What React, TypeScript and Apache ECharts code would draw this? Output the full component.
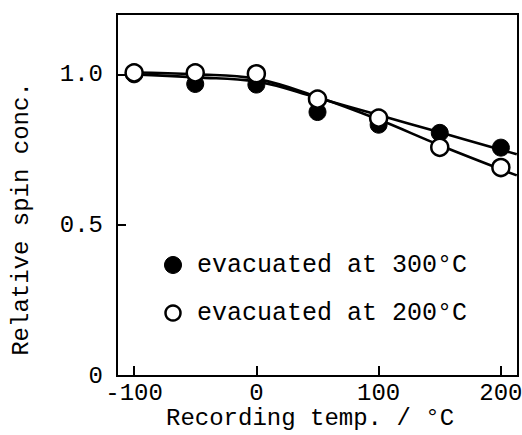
import React, { useEffect, useRef } from "react";
import * as echarts from "echarts";

// Measured points
const temps = [-100, -50, 0, 50, 100, 150, 200];
const spin300 = [1.0, 0.968, 0.966, 0.875, 0.833, 0.806, 0.757];
const spin200 = [1.005, 1.005, 1.002, 0.918, 0.855, 0.758, 0.691];

// Fitted curves drawn through the points
const curveTemps = [-100, -50, 0, 50, 100, 150, 213];
const curve300 = [1.0, 0.99, 0.976, 0.922, 0.865, 0.808, 0.735];
const curve200 = [1.006, 1.0, 0.985, 0.925, 0.85, 0.765, 0.665];

const xTicks = [-100, 0, 100, 200];
const yTicks = [0, 0.5, 1.0];

const legendNames = ["evacuated at 300°C", "evacuated at 200°C"];

const FONT = "'Liberation Mono', 'DejaVu Sans Mono', monospace";

export default function App() {
  const ref = useRef<HTMLDivElement>(null);
  useEffect(() => {
    if (!ref.current) return;
    const chart = echarts.init(ref.current, undefined, { renderer: "svg" });
    const pair = (xs: number[], ys: number[]) => xs.map((x, i) => [x, ys[i]]);
    chart.setOption({
      animation: false,
      backgroundColor: "#fff",
      grid: {
        left: 117,
        top: 14,
        right: 4,
        bottom: 59,
        containLabel: false,
        outerBoundsMode: "none",
        show: true,
        borderColor: "#000",
        borderWidth: 2,
        backgroundColor: "transparent",
      },
      xAxis: {
        type: "value",
        min: -114,
        max: 214,
        name: "Recording temp. / °C",
        nameLocation: "middle",
        nameGap: 30,
        nameMoveOverlap: false,
        nameTextStyle: { fontFamily: FONT, fontSize: 24, color: "#000", padding: [0, 15, 0, 0] },
        axisLine: { show: true, onZero: false, lineStyle: { color: "#000", width: 2 } },
        axisTick: { show: true, inside: true, length: 10, customValues: xTicks, lineStyle: { color: "#000", width: 2 } },
        axisLabel: { customValues: xTicks, fontFamily: FONT, fontSize: 24, color: "#000", margin: 5 },
        splitLine: { show: false },
      },
      yAxis: {
        type: "value",
        min: 0,
        max: 1.2,
        name: "Relative spin conc.",
        nameLocation: "middle",
        nameGap: 84,
        nameMoveOverlap: false,
        nameTextStyle: { fontFamily: FONT, fontSize: 24, color: "#000", padding: [0, 48, 0, 0] },
        axisLine: { show: true, onZero: false, lineStyle: { color: "#000", width: 2 } },
        axisTick: { show: true, inside: true, length: 9, customValues: yTicks, lineStyle: { color: "#000", width: 2 } },
        axisLabel: {
          customValues: yTicks,
          fontFamily: FONT,
          fontSize: 24,
          color: "#000",
          margin: 14,
          formatter: (v: number) => (v === 0 ? "0" : v.toFixed(1)),
        },
        splitLine: { show: false },
      },
      series: [
        {
          type: "line",
          data: pair(curveTemps, curve300),
          smooth: 0.4,
          showSymbol: false,
          lineStyle: { color: "#000", width: 2.6 },
          z: 2,
        },
        {
          type: "line",
          data: pair(curveTemps, curve200),
          smooth: 0.4,
          showSymbol: false,
          lineStyle: { color: "#000", width: 2.6 },
          z: 2,
        },
        {
          name: legendNames[0],
          type: "scatter",
          data: pair(temps, spin300),
          symbol: "circle",
          symbolSize: 17,
          itemStyle: { color: "#000", borderColor: "#000", borderWidth: 1, opacity: 1 },
          z: 3,
        },
        {
          name: legendNames[1],
          type: "scatter",
          data: pair(temps, spin200),
          symbol: "circle",
          symbolSize: 17,
          itemStyle: { color: "#fff", borderColor: "#000", borderWidth: 2.5, opacity: 1 },
          z: 4,
        },
      ],
      graphic: [
        { type: "circle", shape: { cx: 173, cy: 265, r: 8.5 }, style: { fill: "#000", stroke: "#000", lineWidth: 1 } },
        {
          type: "text",
          x: 197,
          y: 265,
          style: { text: legendNames[0], fontFamily: FONT, fontSize: 25, fill: "#000", verticalAlign: "middle" },
        },
        { type: "circle", shape: { cx: 173, cy: 313, r: 7.5 }, style: { fill: "#fff", stroke: "#000", lineWidth: 2.5 } },
        {
          type: "text",
          x: 197,
          y: 313,
          style: { text: legendNames[1], fontFamily: FONT, fontSize: 25, fill: "#000", verticalAlign: "middle" },
        },
      ],
    });
    return () => chart.dispose();
  }, []);
  return <div ref={ref} style={{ width: 522, height: 435, position: "absolute", left: 0, top: 0 }} />;
}
